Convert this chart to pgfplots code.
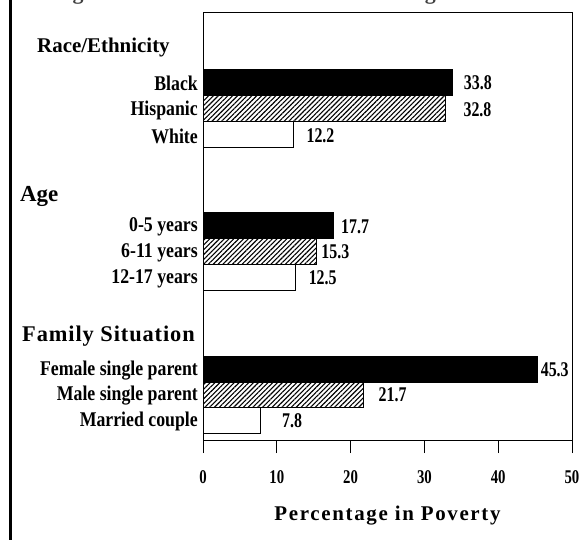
\documentclass[border=0pt]{standalone}
\usepackage{pgfplots}
\pgfplotsset{compat=1.18}
\usepackage{pgfplotstable}
\usepackage{fontspec}
\setmainfont{Liberation Serif}
\newfontfamily\cond[FakeStretch=0.85]{Liberation Serif}
\newfontfamily\narrow[FakeStretch=0.76]{Liberation Serif}
\newfontfamily\spaced[LetterSpace=8]{Liberation Serif}
\newfontfamily\wide[LetterSpace=4]{Liberation Serif}
\usetikzlibrary{patterns.meta}

% y = row of the bar centre (axis runs downward), x = percent, dx = label gap
\pgfplotstableread{
y     x    dx
82    33.8 8
225.5 17.7 4
369   45.3 0
}\blackdata
\pgfplotstableread{
y     x    dx
108.5 32.8 15
251   15.3 2
394   21.7 12
}\hatchdata
\pgfplotstableread{
y     x    dx
134.5 12.2 10
277   12.5 10
420   7.8  18
}\whitedata

\begin{document}
\begin{tikzpicture}
\useasboundingbox (0,0) rectangle (583bp,540bp);
% cut-off figure title at the top edge
\node[anchor=base west, inner sep=0pt, text=black!75, font=\bfseries\fontsize{22}{22}\selectfont]
  at (53bp,540bp) {Figure 1.1\quad Children's Chances of Being Poor};
\draw[line width=3bp] (10bp,0) -- (10bp,540bp);

\node[anchor=base west, inner sep=0pt, font=\bfseries\fontsize{21}{22}\selectfont] at (37bp,487bp) {Race/Ethnicity};
\node[anchor=base west, inner sep=0pt, font=\bfseries\fontsize{23}{23}\selectfont] at (20bp,338bp) {Age};
\node[anchor=base west, inner sep=0pt, font=\wide\bfseries\fontsize{22.5}{23}\selectfont] at (22bp,198.5bp) {Family Situation};

\begin{axis}[
    at={(203bp,100bp)}, anchor=south west,
    scale only axis, width=369bp, height=428bp,
    xbar, bar width=25.7, bar shift=0pt,
    xmin=0, xmax=50, ymin=12, ymax=440, y dir=reverse,
    enlargelimits=false,
    axis line style={line width=0.8bp},
    xtick={0,10,20,30,40,50},
    xtick pos=bottom, xtick align=outside,
    major tick length=13bp,
    tick style={line width=0.8bp, black},
    ytick={82,108.5,134.5,225.5,251,277,369,394,420},
    yticklabels={Black,Hispanic,White,0-5 years,6-11 years,12-17 years,Female single parent,Male single parent,Married couple},
    ytick style={draw=none},
    /pgf/number format/assume math mode=true,
    xticklabel style={font=\narrow\bfseries\fontsize{19.5}{19.5}\selectfont, anchor=base, yshift=-30bp},
    yticklabel style={font=\cond\bfseries\fontsize{21}{21}\selectfont, anchor=east, inner xsep=0pt, xshift=8bp, yshift=-1.5bp},
    xlabel={\spaced Percentage in Poverty},
    every axis x label/.style={at={(rel axis cs:0.5,0)}, anchor=base, yshift=-80bp,
      font=\bfseries\fontsize{21}{21}\selectfont},
    point meta=x,
    nodes near coords,
    nodes near coords style={font=\narrow\bfseries\fontsize{21}{21}\selectfont, anchor=west, yshift=-1bp,
      /pgf/number format/fixed, /pgf/number format/fixed zerofill, /pgf/number format/precision=1},
]
\addplot[fill=black, draw=black, bar shift=0pt,
  visualization depends on={\thisrow{dx}\as\dx},
  nodes near coords style={xshift=\dx bp}]
  table[x=x, y=y] {\blackdata};
\addplot[draw=black, pattern={Lines[angle=45,distance=3.4bp,line width=1.1bp]}, bar shift=0pt,
  visualization depends on={\thisrow{dx}\as\dx},
  nodes near coords style={xshift=\dx bp}]
  table[x=x, y=y] {\hatchdata};
\addplot[fill=white, draw=black, bar shift=0pt,
  visualization depends on={\thisrow{dx}\as\dx},
  nodes near coords style={xshift=\dx bp}]
  table[x=x, y=y] {\whitedata};
\end{axis}
\end{tikzpicture}
\end{document}
